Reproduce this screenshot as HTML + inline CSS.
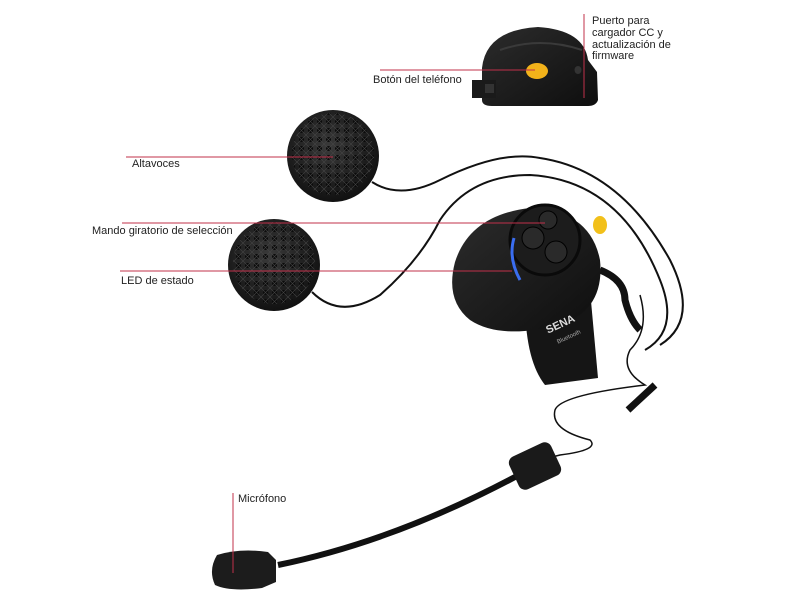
<!DOCTYPE html>
<html><head><style>
body{margin:0;background:#fff;}
svg{display:block;}
text{font-family:"Liberation Sans",sans-serif;font-size:11px;fill:#222;}
</style></head><body>
<svg width="800" height="600" viewBox="0 0 800 600" xmlns="http://www.w3.org/2000/svg">
<defs>
<radialGradient id="sp" cx="45%" cy="40%" r="60%"><stop offset="0" stop-color="#3a3a3a"/><stop offset="1" stop-color="#111"/></radialGradient>
<pattern id="mesh" width="9" height="9" patternUnits="userSpaceOnUse"><circle cx="4.5" cy="4.5" r="2.5" fill="#0a0a0a"/><path d="M0 0L9 9M9 0L0 9" stroke="#444" stroke-width="0.6"/></pattern>
<linearGradient id="bd" x1="0" y1="0" x2="1" y2="1"><stop offset="0" stop-color="#2c2c2c"/><stop offset="1" stop-color="#0e0e0e"/></linearGradient>
</defs>

<!-- top unit -->
<path d="M482 100 L482 68 Q486 30 538 27 Q584 30 588 60 L597 72 L598 100 Q596 106 588 106 L492 106 Q482 106 482 100Z" fill="url(#bd)"/>
<path d="M500 50 Q540 36 582 50" stroke="#3a3a3a" stroke-width="2" fill="none"/>
<rect x="472" y="80" width="24" height="18" fill="#1a1a1a"/>
<rect x="485" y="84" width="9" height="9" fill="#333"/>
<ellipse cx="537" cy="71" rx="11" ry="8" fill="#f2b21a"/>
<ellipse cx="578" cy="70" rx="3.5" ry="4" fill="#333"/>
<line x1="380" y1="70" x2="535" y2="70" stroke="#c0304a" stroke-width="1"/>
<line x1="584" y1="14" x2="584" y2="98" stroke="#c0304a" stroke-width="1"/>
<text x="373" y="83">Botón del teléfono</text>
<text x="592" y="24">Puerto para</text>
<text x="592" y="36">cargador CC y</text>
<text x="592" y="48">actualización de</text>
<text x="592" y="59">firmware</text>

<!-- cables -->
<path d="M372 182 Q400 200 440 180 Q500 150 540 158 Q620 170 670 260 Q700 320 660 345" stroke="#111" stroke-width="2" fill="none"/>
<path d="M312 292 Q340 320 380 295 Q420 260 440 220 Q470 175 530 175 Q620 180 660 280 Q680 330 645 350" stroke="#111" stroke-width="2" fill="none"/>
<path d="M640 295 Q650 330 630 350 Q620 370 645 385 Q560 395 555 410 Q550 430 590 440 Q600 450 560 455 L540 460" stroke="#111" stroke-width="1.5" fill="none"/>
<path d="M600 270 Q625 280 625 300 Q630 320 640 330" stroke="#111" stroke-width="7" fill="none"/>
<path d="M628 410 L655 385" stroke="#111" stroke-width="7"/>

<!-- speakers -->
<circle cx="333" cy="156" r="46" fill="url(#sp)"/>
<circle cx="333" cy="154" r="41" fill="url(#mesh)"/>
<circle cx="274" cy="265" r="46" fill="url(#sp)"/>
<circle cx="274" cy="263" r="41" fill="url(#mesh)"/>

<!-- main unit -->
<path d="M525 300 L590 290 L598 378 L545 385 Q525 360 525 300Z" fill="#151515"/>
<path d="M455 262 Q470 215 530 208 Q590 210 600 260 Q605 310 560 325 Q500 340 470 320 Q445 300 455 262Z" fill="url(#bd)"/>
<circle cx="545" cy="240" r="35" fill="#1c1c1c" stroke="#0a0a0a" stroke-width="3"/>
<circle cx="533" cy="238" r="11" fill="#2a2a2a" stroke="#000"/>
<circle cx="556" cy="252" r="11" fill="#2a2a2a" stroke="#000"/>
<circle cx="548" cy="220" r="9" fill="#2a2a2a" stroke="#000"/>
<path d="M514 238 Q508 258 520 280" stroke="#3a6df0" stroke-width="3" fill="none"/>
<ellipse cx="600" cy="225" rx="7" ry="9" fill="#f2c01a"/>
<text x="545" y="330" transform="rotate(-25 555 325)" style="fill:#ddd;font-size:11px;font-weight:bold;">SENA</text>
<text x="555" y="340" transform="rotate(-25 565 335)" style="fill:#aaa;font-size:6px;">Bluetooth</text>

<!-- mic -->
<path d="M278 565 Q400 540 528 470" stroke="#111" stroke-width="6" fill="none"/>
<rect x="512" y="448" width="46" height="36" rx="7" fill="#1a1a1a" transform="rotate(-25 535 466)"/>
<path d="M217 555 Q240 548 268 552 L276 560 L276 582 L262 588 Q230 592 215 585 Q208 570 217 555Z" fill="#1c1c1c"/>

<!-- labels -->
<line x1="126" y1="157" x2="333" y2="157" stroke="#c0304a"/>
<text x="132" y="167">Altavoces</text>
<line x1="122" y1="223" x2="545" y2="223" stroke="#c0304a"/>
<text x="92" y="234">Mando giratorio de selección</text>
<line x1="120" y1="271" x2="512" y2="271" stroke="#c0304a"/>
<text x="121" y="284">LED de estado</text>
<line x1="233" y1="493" x2="233" y2="573" stroke="#c0304a"/>
<text x="238" y="502">Micrófono</text>
</svg>
</body></html>
